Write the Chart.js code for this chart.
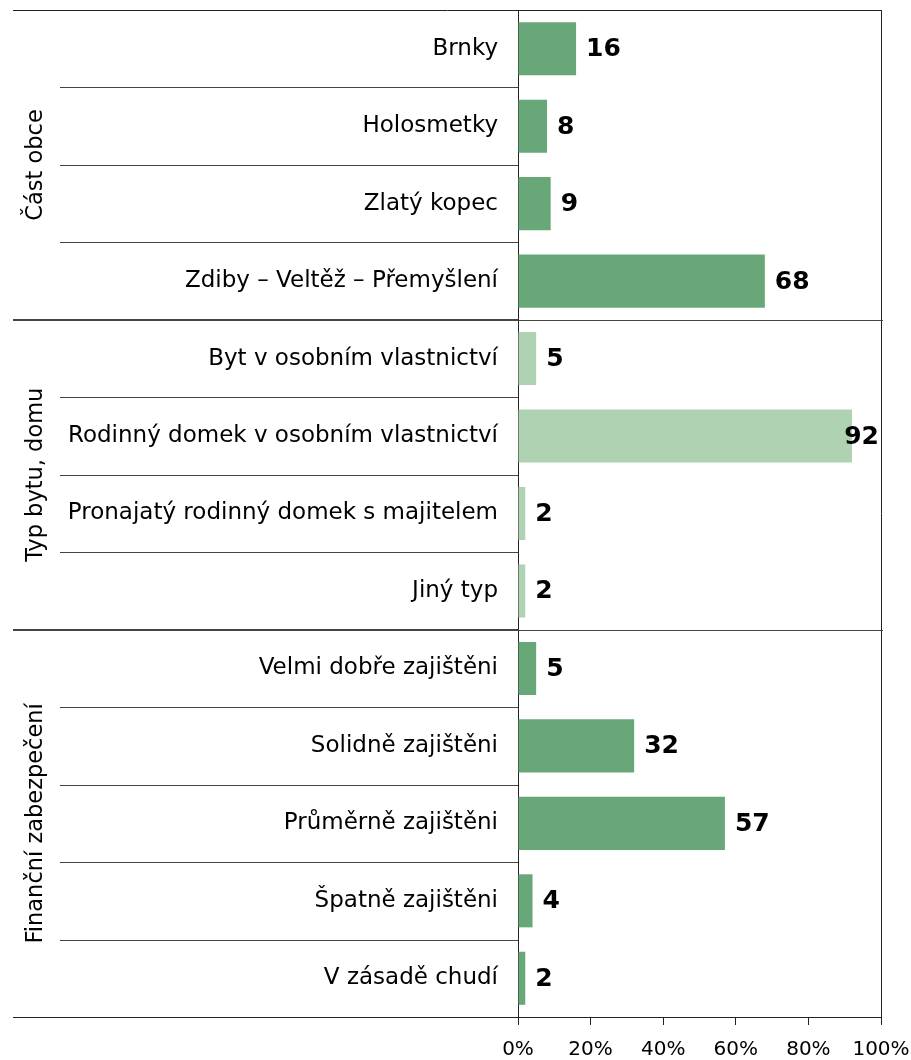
<!DOCTYPE html>
<html>
<head>
<meta charset="utf-8">
<script src="https://cdn.jsdelivr.net/npm/chart.js@4/dist/chart.umd.min.js"></script>
<style>
  body { margin: 0; background: #fff; }
  #wrap { width: 911px; height: 1060px; }
</style>
</head>
<body>
<div id="wrap"><canvas id="myChart" width="911" height="1060"></canvas></div>
<script>
const categories = [
    'Brnky', 'Holosmetky', 'Zlatý kopec', 'Zdiby – Veltěž – Přemyšlení',
    'Byt v osobním vlastnictví', 'Rodinný domek v osobním vlastnictví',
    'Pronajatý rodinný domek s majitelem', 'Jiný typ',
    'Velmi dobře zajištěni', 'Solidně zajištěni', 'Průměrně zajištěni',
    'Špatně zajištěni', 'V zásadě chudí'
];
const values = [16, 8, 9, 68, 5, 92, 2, 2, 5, 32, 57, 4, 2];
const groupNames = ['Část obce', 'Typ bytu, domu', 'Finanční zabezpečení'];
const groupSizes = [4, 4, 5];
const xTicks = [0, 20, 40, 60, 80, 100];

const darkGreen = 'rgb(104, 168, 120)';
const lightGreen = 'rgb(174, 210, 178)';
const font = "'DejaVu Sans', Verdana, sans-serif";

// colour per bar: the middle group is lighter
const barColors = [];
groupSizes.forEach(function (n, g) {
    for (let i = 0; i < n; i++) barColors.push(g === 1 ? lightGreen : darkGreen);
});

const decorations = {
    id: 'decorations',
    afterDraw(chart) {
        const { ctx, chartArea: { left, right, top, bottom } } = chart;
        const yScale = chart.scales.y;
        const pitch = yScale.getPixelForValue(1) - yScale.getPixelForValue(0);
        ctx.save();

        // top and bottom frame lines, right border
        ctx.strokeStyle = '#222';
        ctx.lineWidth = 1;
        ctx.beginPath();
        ctx.moveTo(13, Math.round(top) + 0.5); ctx.lineTo(right + 1, Math.round(top) + 0.5);
        ctx.moveTo(13, Math.round(bottom) + 0.5); ctx.lineTo(right, Math.round(bottom) + 0.5);
        ctx.moveTo(Math.round(right) + 0.5, top); ctx.lineTo(Math.round(right) + 0.5, bottom);
        ctx.stroke();

        // separators between categories and groups
        let idx = 0;
        groupSizes.forEach(function (n, g) {
            const gTop = yScale.getPixelForValue(idx) - pitch / 2;
            const gBottom = yScale.getPixelForValue(idx + n - 1) + pitch / 2;
            for (let i = 1; i < n; i++) {
                const y = Math.round(yScale.getPixelForValue(idx + i) - pitch / 2) + 0.5;
                ctx.strokeStyle = '#444';
                ctx.lineWidth = 1;
                ctx.beginPath();
                ctx.moveTo(60, y); ctx.lineTo(left, y);
                ctx.stroke();
            }
            if (g < groupSizes.length - 1) {
                const y = Math.round(gBottom);
                ctx.strokeStyle = '#444';
                ctx.lineWidth = 2;
                ctx.beginPath();
                ctx.moveTo(13, y); ctx.lineTo(left, y);
                ctx.stroke();
                ctx.lineWidth = 1;
                ctx.beginPath();
                ctx.moveTo(left, y + 0.5); ctx.lineTo(right + 2, y + 0.5);
                ctx.stroke();
            }
            // rotated group name
            ctx.save();
            ctx.translate(36, (gTop + gBottom) / 2);
            ctx.rotate(-Math.PI / 2);
            ctx.fillStyle = '#000';
            ctx.font = '22.5px ' + font;
            ctx.textAlign = 'center';
            ctx.textBaseline = 'middle';
            ctx.fillText(groupNames[g], 0, 0);
            ctx.restore();
            idx += n;
        });

        // value labels
        const meta = chart.getDatasetMeta(0);
        ctx.fillStyle = '#000';
        ctx.font = 'bold 25px ' + font;
        ctx.textBaseline = 'middle';
        meta.data.forEach(function (bar, i) {
            const txt = String(values[i]);
            const w = ctx.measureText(txt).width;
            if (bar.x + 10 + w > right) {
                ctx.textAlign = 'right';
                ctx.fillText(txt, right - 2, bar.y + 1);
            } else {
                ctx.textAlign = 'left';
                ctx.fillText(txt, bar.x + 10, bar.y + 1);
            }
        });
        ctx.restore();
    }
};

const ctx = document.getElementById('myChart').getContext('2d');
const myChart = new Chart(ctx, {
    type: 'bar',
    data: {
        labels: categories,
        datasets: [{
            data: values,
            backgroundColor: barColors,
            borderWidth: 0,
            barPercentage: 0.685,
            categoryPercentage: 1
        }]
    },
    options: {
        responsive: false,
        animation: false,
        indexAxis: 'y',
        layout: {
            padding: { top: 10, right: 30, bottom: 0, left: 0 }
        },
        scales: {
            x: {
                min: 0,
                max: 100,
                afterFit: function (scale) {
                    scale.height = 43;
                    scale.paddingLeft = 0;
                    scale.paddingRight = 0;
                },
                afterBuildTicks: function (scale) {
                    scale.ticks = xTicks.map(function (v) { return { value: v }; });
                },
                grid: {
                    drawOnChartArea: false,
                    drawTicks: true,
                    tickLength: 8,
                    color: '#222'
                },
                border: { display: true, color: '#222', width: 1 },
                ticks: {
                    color: '#000',
                    padding: 13,
                    maxRotation: 0,
                    font: { family: font, size: 20 },
                    callback: function (v) { return v + '%'; }
                }
            },
            y: {
                afterFit: function (scale) {
                    scale.width = 518;
                    scale.paddingTop = 0;
                    scale.paddingBottom = 0;
                },
                grid: { display: false },
                border: { display: true, color: '#222', width: 1 },
                ticks: {
                    color: '#000',
                    padding: 12,
                    font: { family: font, size: 23 }
                }
            }
        },
        plugins: {
            legend: { display: false },
            tooltip: { enabled: false }
        }
    },
    plugins: [decorations]
});
</script>
</body>
</html>
